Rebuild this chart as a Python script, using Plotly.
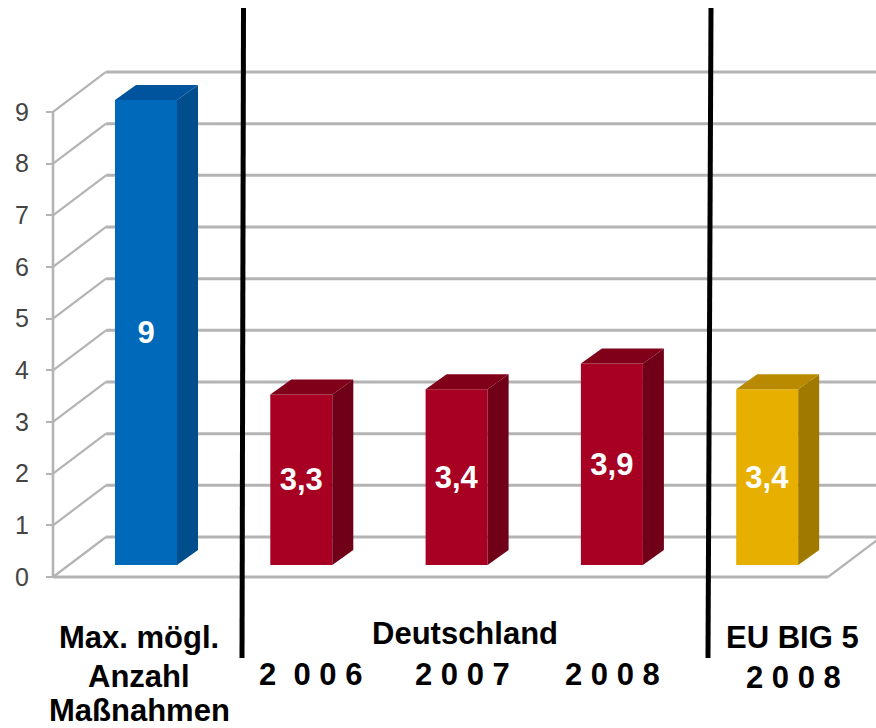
import plotly.graph_objects as go

# ---- data ----
categories = ["Max. mögl. Anzahl Maßnahmen", "Deutschland 2006", "Deutschland 2007", "Deutschland 2008", "EU BIG 5 2008"]
values = [9, 3.3, 3.4, 3.9, 3.4]
tick_values = [0, 1, 2, 3, 4, 5, 6, 7, 8, 9]
front_colors = ["#0069B9", "#A80022", "#A80022", "#A80022", "#E7B000"]
side_colors = ["#004F8C", "#6F0018", "#6F0018", "#6F0018", "#A07A00"]
top_colors = ["#00549E", "#80001A", "#80001A", "#80001A", "#B98A00"]

# ---- geometry (pixels of the 876x728 page) ----
W, H = 876, 728
PX_PER_CAT = 155.3
PX_PER_VAL = 51.67
CAT0_PX = 146.0
BASE_PX = 565
BAR_W = 62 / PX_PER_CAT
BAR_DX = 21 / PX_PER_CAT
BAR_DY = 15 / PX_PER_VAL
FLOOR_Y = (BASE_PX - 577) / PX_PER_VAL      # front edge of the chart box in bar units
WALL_DX = 53 / PX_PER_CAT
WALL_DY = 40 / PX_PER_VAL
AXIS_X = (53 - CAT0_PX) / PX_PER_CAT
FLOOR_R = (828 - CAT0_PX) / PX_PER_CAT
GRID_COL = "#B4B4B4"

x_range = [-CAT0_PX / PX_PER_CAT, (W - CAT0_PX) / PX_PER_CAT]
y_range = [(BASE_PX - H) / PX_PER_VAL, BASE_PX / PX_PER_VAL]
y2_range = [y_range[0] - FLOOR_Y, y_range[1] - FLOOR_Y]

fig = go.Figure()

# front faces
xs = list(range(len(values)))
fig.add_trace(go.Bar(
    x=xs, y=values, width=BAR_W, marker=dict(color=front_colors, line=dict(width=0)),
    text=[str(v).replace(".", ",") for v in values],
    textposition="inside", insidetextanchor="middle", textangle=0, constraintext="none",
    textfont=dict(family="Liberation Sans", size=31, color="white", weight="bold"),
    hoverinfo="skip", showlegend=False,
))

# side and top faces
for x, v, sc, tc in zip(xs, values, side_colors, top_colors):
    r = x + BAR_W / 2
    l = x - BAR_W / 2
    fig.add_trace(go.Scatter(
        x=[r, r + BAR_DX, r + BAR_DX, r, r], y=[0, BAR_DY, v + BAR_DY, v, 0],
        mode="lines", fill="toself", fillcolor=sc, line=dict(width=0), hoverinfo="skip", showlegend=False))
    fig.add_trace(go.Scatter(
        x=[l, l + BAR_DX, r + BAR_DX, r, l], y=[v, v + BAR_DY, v + BAR_DY, v, v],
        mode="lines", fill="toself", fillcolor=tc, line=dict(width=0), hoverinfo="skip", showlegend=False))

# invisible trace that keeps the tick axis alive
fig.add_trace(go.Scatter(x=[0], y=[0], yaxis="y2", mode="markers", marker=dict(opacity=0),
                         hoverinfo="skip", showlegend=False))

shapes = []
def seg(x0, y0, x1, y1, w=2.4, color=GRID_COL):
    shapes.append(dict(type="line", xref="x", yref="y", x0=x0, y0=y0, x1=x1, y1=y1,
                       layer="below", line=dict(color=color, width=w)))

for t in tick_values:
    yf = FLOOR_Y + t
    seg(AXIS_X + WALL_DX, yf + WALL_DY, x_range[1] + 0.1, yf + WALL_DY, 3)   # back wall
    seg(AXIS_X, yf, AXIS_X + WALL_DX, yf + WALL_DY, 2.2)                     # side wall
seg(AXIS_X, FLOOR_Y, AXIS_X, FLOOR_Y + tick_values[-1], 2.6)                 # axis line
seg(AXIS_X, FLOOR_Y, FLOOR_R, FLOOR_Y, 3)                                    # floor front
seg(FLOOR_R, FLOOR_Y, FLOOR_R + WALL_DX, FLOOR_Y + WALL_DY, 2.2)             # floor right

# black separators
for x0, x1 in [(243.5, 242), (711, 708)]:
    shapes.append(dict(type="line", xref="paper", yref="paper", x0=x0 / W, x1=x1 / W,
                       y0=1 - 8 / H, y1=1 - 658 / H, layer="above",
                       line=dict(color="black", width=5)))

labels = [
    ("Max. mögl.", 139, 637), ("Anzahl", 139, 676), ("Maßnahmen", 139, 710),
    ("Deutschland", 465, 633), ("2  0 0 6", 310, 674), ("2 0 0 7", 462, 674), ("2 0 0 8", 612, 674),
    ("EU BIG 5", 792, 637), ("2 0 0 8", 793, 677),
]
annotations = [dict(text=t, x=px / W, y=1 - py / H, xref="paper", yref="paper", showarrow=False,
                    xanchor="center", yanchor="middle",
                    font=dict(family="Liberation Sans", size=31, color="black", weight="bold"))
               for t, px, py in labels]

fig.update_layout(
    width=W, height=H, margin=dict(l=0, r=0, t=0, b=0), autosize=False,
    paper_bgcolor="white", plot_bgcolor="white", showlegend=False, barmode="overlay",
    xaxis=dict(range=x_range, visible=False, domain=[0, 1], fixedrange=True),
    yaxis=dict(range=y_range, visible=False, domain=[0, 1], fixedrange=True),
    yaxis2=dict(range=y2_range, overlaying="y", anchor="free", position=53 / W, side="left",
                tickmode="array", tickvals=tick_values, ticktext=[str(t) for t in tick_values],
                ticks="outside", ticklen=7, tickwidth=2, tickcolor=GRID_COL,
                showgrid=False, zeroline=False, showline=False, ticklabelstandoff=12,
                tickfont=dict(family="Liberation Sans", size=25, color="#444444"), fixedrange=True),
    shapes=shapes, annotations=annotations,
)

fig.write_html("out.html", config=dict(displayModeBar=False),
               post_script="document.body.style.margin='0';document.body.style.overflow='hidden';")
